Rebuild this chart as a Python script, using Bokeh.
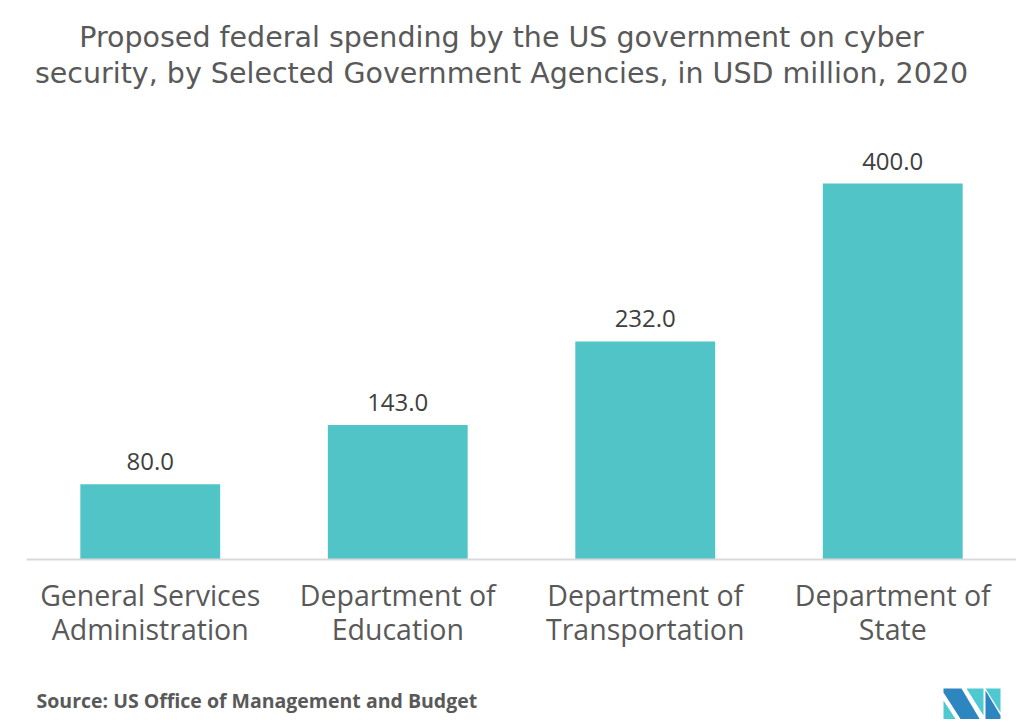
from bokeh.plotting import figure
from bokeh.models import Label, PolyAnnotation, FactorRange, Range1d, ColumnDataSource, LabelSet
from bokeh.core.properties import value
from bokeh.embed import file_html
from bokeh.resources import INLINE

categories = ["General Services\nAdministration", "Department of\nEducation",
              "Department of\nTransportation", "Department of\nState"]
values = [80.0, 143.0, 232.0, 400.0]
value_labels = ["%.1f" % v for v in values]

title_lines = ["Proposed federal spending by the US government on cyber",
               "security, by Selected Government Agencies, in USD million, 2020"]
source_text = "Source: US Office of Management and Budget"

W, H = 1016, 719
LEFT = 26
BASE = 559      # canvas y of the zero line
PX = 0.94       # px per unit

p = figure(width=W, height=H, output_backend="svg", toolbar_location=None,
           x_range=FactorRange(factors=categories, range_padding=0),
           y_range=Range1d(-(H - BASE) / PX, BASE / PX),
           y_axis_location=None, min_border_top=0, min_border_bottom=0,
           min_border_left=LEFT, min_border_right=0, outline_line_color=None)
p.grid.visible = False

src = ColumnDataSource(dict(x=categories, top=values, lab=value_labels))
p.vbar(x="x", top="top", width=0.565, source=src, fill_color="#50C4C6", line_color=None)
p.add_layout(LabelSet(x="x", y="top", text="lab", source=src, text_align="center",
                      text_baseline="alphabetic", y_offset=14, text_font=value("Open Sans"),
                      text_font_size="24px", text_color="#404040"))

ax = p.xaxis[0]
ax.fixed_location = 0
ax.axis_line_color = "#d9d9d9"
ax.axis_line_width = 2
ax.major_tick_line_color = None
ax.minor_tick_line_color = None
ax.major_label_text_font = "Open Sans"
ax.major_label_text_font_size = "28.5px"
ax.major_label_text_color = "#595959"
ax.major_label_standoff = 10
ax.major_label_text_line_height = 0.92

for i, t in enumerate(title_lines):
    p.add_layout(Label(x=501 - LEFT, y=H - (37 + i * 36), x_units="screen", y_units="screen",
                       text=t, text_align="center", text_baseline="middle",
                       text_font="DejaVu Sans", text_font_size="28.5px", text_color="#595959"))

p.add_layout(Label(x=36 - LEFT, y=H - 700, x_units="screen", y_units="screen", text=source_text,
                   text_font="Open Sans", text_font_style="bold", text_font_size="19.5px",
                   text_color="#595959", text_baseline="middle"))

logo = [
    ("#4FC9D0", [943, 956, 943], [700, 720, 720]),
    ("#2E86C1", [943, 961, 980, 961, 943], [688, 688, 720, 720, 692]),
    ("#4FC9D0", [966, 983, 983], [688, 688, 715]),
    ("#4FC9D0", [985, 1000, 1000], [688, 688, 712]),
    ("#2E86C1", [985, 1000, 1000, 985], [690, 715, 720, 720]),
]
for col, xs, ys in logo:
    p.add_layout(PolyAnnotation(xs=[x - LEFT for x in xs], ys=[H - y for y in ys],
                                xs_units="screen", ys_units="screen",
                                fill_color=col, fill_alpha=1, line_color=None))

open("out.html", "w").write(file_html(p, INLINE))
